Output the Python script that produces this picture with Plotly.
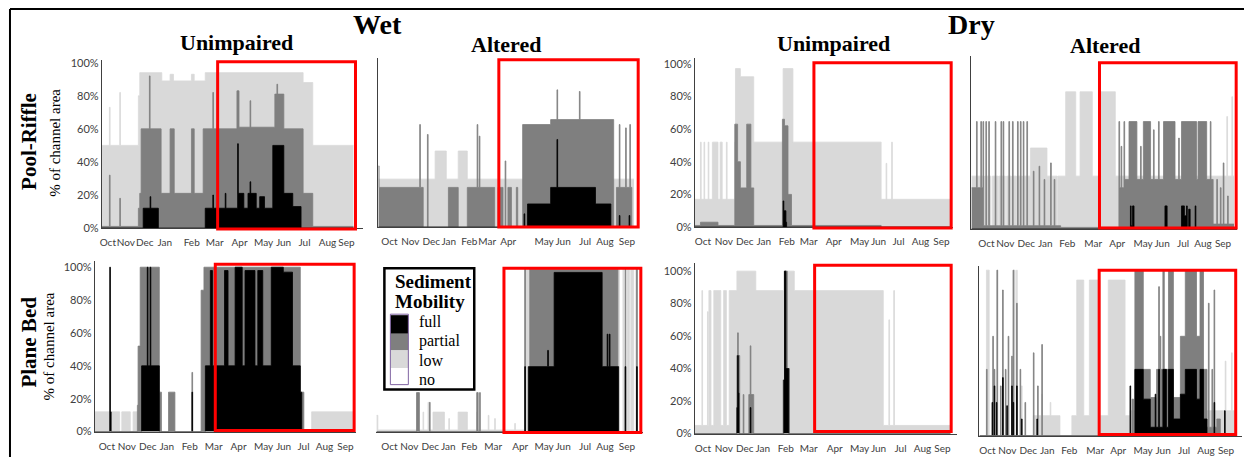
import plotly.graph_objects as go

W, H = 1244, 465
LOW_C, PART_C, FULL_C = "#d9d9d9", "#7f7f7f", "#000000"
MONTHS = ["Oct", "Nov", "Dec", "Jan", "Feb", "Mar", "Apr", "May", "Jun", "Jul", "Aug", "Sep"]
Y_TICKS = [0, 20, 40, 60, 80, 100]
Y_TEXT = ["0%", "20%", "40%", "60%", "80%", "100%"]

# ---- data: (day of water year, % of channel area) step breakpoints ----
# Wet, Unimpaired, Pool-Riffle
WU_PR_low = [(0, 50), (11, 73), (12, 50), (26, 82), (27, 50), (53, 80), (55, 94), (87, 89), (99, 93), (104, 89),
             (130, 93), (134, 89), (150, 94), (292, 88), (306, 50)]
WU_PR_partial = [(0, 1), (11, 32), (12, 1), (26, 18), (27, 1), (53, 12), (55, 21), (57, 60), (69, 92), (70, 60),
                 (86, 21), (99, 60), (105, 21), (130, 60), (134, 21), (147, 60), (161, 82), (162, 60), (196, 83),
                 (199, 61), (215, 77), (216, 61), (251, 81), (254, 87), (255, 81), (264, 60), (292, 21), (306, 1)]
WU_PR_full = [(0, 0), (60, 12), (70, 19), (71, 12), (82, 0), (150, 12), (161, 20), (162, 12), (179, 21), (180, 12),
              (197, 51), (198, 21), (206, 12), (212, 21), (215, 28), (216, 21), (224, 12), (229, 19), (236, 12),
              (248, 50), (264, 21), (277, 13), (289, 0)]

# Wet, Altered, Pool-Riffle
WA_PR_low = [(0, 29), (81, 46), (97, 29), (114, 46), (127, 29)]
WA_PR_partial = [(0, 37), (1, 24), (59, 62), (60, 24), (64, 0), (70, 56), (71, 0), (100, 24), (114, 0), (127, 24),
                 (141, 62), (142, 24), (144, 55), (145, 24), (166, 0), (171, 24), (178, 0), (181, 40), (182, 0),
                 (185, 24), (190, 0), (197, 24), (199, 0), (206, 62), (246, 65), (255, 83), (256, 65), (287, 82),
                 (288, 65), (336, 0), (340, 24), (344, 62), (345, 24), (353, 60), (354, 24), (359, 62), (360, 24),
                 (362, 0)]
WA_PR_full = [(0, 0), (208, 8), (209, 0), (213, 14), (246, 24), (255, 53), (256, 24), (310, 14), (332, 0),
              (344, 7), (345, 0), (358, 7), (359, 0)]

# Dry, Unimpaired, Pool-Riffle
DU_PR_low = [(0, 17), (8, 52), (9, 17), (13, 52), (14, 17), (19, 52), (20, 17), (25, 52), (33, 17), (36, 52),
             (39, 17), (45, 52), (46, 17), (57, 52), (58, 97), (65, 92), (84, 52), (126, 97), (140, 52), (266, 17),
             (273, 39), (274, 17), (281, 52), (282, 17)]
DU_PR_partial = [(0, 1), (8, 3), (33, 1), (57, 63), (61, 40), (65, 24), (74, 63), (80, 24), (84, 1), (125, 66),
                 (128, 62), (133, 20), (138, 1), (266, 0)]
DU_PR_full = [(0, 0), (126, 16), (127, 10), (130, 3), (131, 0)]

# Dry, Altered, Pool-Riffle
DA_PR_low = [(0, 32), (18, 0), (19, 32), (27, 0), (29, 32), (37, 0), (38, 32), (47, 0), (49, 32), (55, 0),
             (56, 32), (62, 0), (63, 32), (70, 0), (71, 32), (82, 49), (105, 32), (110, 0), (112, 32), (119, 0),
             (120, 32), (131, 83), (145, 32), (151, 83), (168, 32), (180, 83), (200, 32), (355, 68), (356, 32),
             (362, 80), (363, 32)]
DA_PR_partial = [(0, 25), (7, 65), (8, 25), (13, 65), (14, 25), (16, 65), (17, 2), (20, 65), (21, 2), (24, 65),
                 (25, 2), (33, 65), (34, 2), (41, 65), (42, 2), (44, 65), (45, 2), (52, 65), (53, 2), (57, 65),
                 (58, 2), (64, 65), (65, 2), (68, 65), (69, 2), (72, 65), (73, 2), (77, 65), (78, 2), (86, 35),
                 (87, 2), (94, 38), (95, 2), (101, 30), (102, 2), (110, 40), (111, 2), (115, 30), (116, 2),
                 (124, 1), (205, 65), (206, 25), (208, 50), (209, 25), (212, 65), (213, 30), (219, 65), (230, 30),
                 (235, 50), (236, 30), (239, 65), (249, 30), (253, 60), (254, 30), (260, 65), (261, 30), (267, 65),
                 (283, 30), (288, 55), (289, 30), (292, 65), (313, 30), (315, 65), (327, 30), (332, 65), (333, 30),
                 (336, 3), (341, 30), (342, 3), (346, 25), (347, 3), (350, 40), (351, 3), (356, 20), (357, 3)]
DA_PR_full = [(0, 0), (221, 14), (222, 2), (224, 14), (226, 0), (269, 14), (272, 0), (292, 14), (296, 8),
              (299, 14), (300, 0), (302, 12), (304, 0), (311, 14), (312, 0)]

# Wet, Unimpaired, Plane Bed
WU_PB_low = [(0, 12), (35, 0), (38, 12), (50, 0), (54, 12), (62, 0), (306, 12)]
WU_PB_partial = [(0, 0), (60, 16), (61, 52), (64, 100), (91, 24), (94, 0), (104, 24), (113, 0), (137, 36),
                 (138, 0), (150, 86), (154, 100), (290, 24), (295, 0)]
WU_PB_full = [(0, 0), (21, 100), (22, 12), (23, 0), (66, 40), (74, 100), (75, 40), (78, 100), (79, 40), (91, 0),
              (137, 24), (138, 0), (156, 40), (163, 98), (166, 40), (183, 98), (188, 40), (198, 100), (208, 40),
              (212, 98), (226, 40), (230, 98), (237, 40), (249, 100), (266, 97), (279, 40), (290, 24), (292, 0)]

# Wet, Altered, Plane Bed
WA_PB_low = [(0, 10), (2, 1), (65, 12), (66, 1), (72, 18), (73, 1), (79, 12), (95, 1), (101, 8), (102, 1),
             (114, 12), (127, 1), (140, 12), (141, 1), (156, 10), (157, 1), (165, 8), (166, 1), (193, 5), (194, 1),
             (207, 100), (339, 0), (344, 100), (345, 0), (350, 100), (353, 0), (355, 100), (359, 0), (362, 100)]
WA_PB_partial = [(0, 0), (56, 24), (60, 0), (74, 18), (75, 0), (140, 24), (142, 0), (144, 24), (145, 0),
                 (207, 100), (208, 0), (214, 100), (337, 0), (347, 100), (348, 0), (363, 100), (364, 0)]
WA_PB_full = [(0, 0), (207, 40), (208, 0), (212, 40), (239, 50), (240, 40), (248, 98), (315, 40), (322, 60),
              (323, 40), (325, 60), (326, 40), (338, 0), (347, 40), (348, 0), (363, 40), (364, 0)]

# Dry, Unimpaired, Plane Bed
DU_PB_low = [(0, 5), (10, 88), (11, 5), (18, 75), (19, 5), (20, 88), (23, 5), (27, 88), (37, 5), (41, 88),
             (45, 5), (49, 88), (60, 100), (87, 88), (127, 100), (142, 88), (269, 5), (277, 70), (278, 5),
             (284, 88), (285, 5)]
DU_PB_partial = [(0, 0), (60, 48), (61, 62), (62, 48), (64, 0), (69, 24), (70, 0), (77, 24), (79, 54), (80, 24),
                 (84, 0), (126, 33), (128, 100), (132, 40), (135, 0)]
DU_PB_full = [(0, 0), (60, 16), (61, 48), (62, 25), (63, 0), (79, 16), (80, 0), (127, 33), (128, 100), (130, 40),
              (134, 0)]

# Dry, Altered, Plane Bed
DA_PB_low = [(0, 0), (10, 100), (14, 0), (25, 100), (26, 0), (49, 100), (51, 0), (53, 100), (54, 0), (60, 30),
             (61, 0), (77, 12), (89, 25), (90, 12), (101, 20), (102, 12), (115, 0), (132, 12), (139, 94),
             (149, 12), (157, 94), (172, 12), (184, 94), (208, 12), (215, 15), (351, 45), (352, 15), (360, 50),
             (361, 15)]
DA_PB_partial = [(0, 0), (10, 40), (11, 0), (19, 60), (20, 0), (21, 40), (22, 0), (25, 100), (26, 0), (30, 30),
                 (31, 0), (33, 88), (34, 0), (37, 40), (38, 0), (41, 60), (42, 0), (46, 48), (47, 0), (48, 100),
                 (49, 0), (53, 80), (54, 0), (58, 40), (59, 0), (65, 20), (66, 0), (77, 50), (78, 0), (83, 30),
                 (84, 0), (89, 55), (90, 0), (218, 22), (220, 0), (222, 100), (234, 40), (244, 23), (253, 40),
                 (256, 90), (257, 40), (258, 60), (259, 40), (262, 100), (264, 40), (270, 100), (277, 23),
                 (287, 60), (294, 100), (310, 60), (315, 100), (320, 40), (325, 5), (327, 80), (328, 5), (332, 40),
                 (333, 5), (335, 88), (336, 5), (339, 10), (344, 0)]
DA_PB_full = [(0, 0), (18, 20), (19, 0), (21, 30), (22, 0), (24, 20), (25, 0), (33, 35), (34, 0), (39, 18),
              (40, 0), (46, 30), (47, 0), (48, 20), (49, 0), (53, 30), (54, 0), (60, 10), (61, 0), (82, 10),
              (83, 0), (215, 30), (216, 0), (222, 40), (234, 22), (244, 5), (251, 25), (252, 5), (256, 40),
              (257, 5), (262, 40), (267, 5), (270, 40), (277, 10), (287, 25), (294, 40), (310, 22), (315, 40),
              (320, 10), (325, 0), (335, 20), (336, 0), (350, 15), (351, 0)]

# highlighted window (start day, end day) per panel
WINDOW_START = [168, 172, 170, 178, 170, 178, 171, 171]
WINDOW_END = [368, 371, 366, 368, 366, 369, 366, 366]

# ---- layout (pixels) ----
# month-label centres per panel, in page pixels
LABEL_PX = [
    [106, 124, 143, 163, 190, 213, 238, 262, 282, 303, 326, 345],
    [388, 409, 430, 447.5, 468, 486, 507, 543, 562, 584, 604, 626],
    [702, 723, 744, 763, 786, 808, 833, 859, 878, 898, 920, 941],
    [986, 1005, 1026, 1045, 1067, 1093, 1117, 1143, 1162, 1183, 1203, 1223],
    [105, 125, 146, 165, 188, 212, 237, 262, 282, 302, 323, 344],
    [388, 408, 429, 447, 468, 492, 519, 543, 562, 584, 604, 626],
    [702, 723, 744, 762, 785, 808, 834, 859, 878, 900, 922, 942],
    [987, 1007, 1028, 1047, 1069, 1095, 1118, 1143, 1163, 1184, 1206, 1226],
]
# left, data end, axis end, baseline, top, px per 100%
panels = [
    dict(d=(WU_PR_low, WU_PR_partial, WU_PR_full), g=(100, 352, 362, 229, 57, 169), yt=True, yl=True, wy=(-0.6, 100.6)),
    dict(d=(WA_PR_low, WA_PR_partial, WA_PR_full), g=(377, 633, 638, 228, 55, 169), yt=False, yl=True, wy=(0, 101.2)),
    dict(d=(DU_PR_low, DU_PR_partial, DU_PR_full), g=(694, 950, 953, 228, 55, 167), yt=True, yl=True, wy=(-0.6, 100.6)),
    dict(d=(DA_PR_low, DA_PR_partial, DA_PR_full), g=(971, 1234, 1237, 230, 53, 169), yt=False, yl=True, wy=(0.6, 100.6)),
    dict(d=(WU_PB_low, WU_PB_partial, WU_PB_full), g=(93, 352, 355, 437, 263, 168), yt=True, yl=True, wy=(0.6, 101.8)),
    dict(d=(WA_PB_low, WA_PB_partial, WA_PB_full), g=(375, 637, 642, 437, 267, 166), yt=False, yl=False, wy=(-0.6, 100.6)),
    dict(d=(DU_PB_low, DU_PB_partial, DU_PB_full), g=(694, 950, 957, 439, 265, 166), yt=True, yl=True, wy=(1.2, 103.6)),
    dict(d=(DA_PB_low, DA_PB_partial, DA_PB_full), g=(979, 1235, 1242, 441, 268, 169), yt=False, yl=True, wy=(0.6, 100.0)),
]


def steps(pairs, end=365):
    xs = [p[0] for p in pairs] + [end]
    ys = [p[1] for p in pairs] + [pairs[-1][1]]
    return xs, ys


fig = go.Figure()
shapes = []
annotations = []
layout_axes = {}
xtickfont = dict(family="Lato", size=10, color="#404040")
ytickfont = dict(family="Lato", size=11, color="#404040")

for i, p in enumerate(panels, 1):
    left, dend, aend, base, top, span = p["g"]
    xr = 365 * (aend - left) / (dend - left)
    yr = 100 * (base - top) / span
    day_per_px = 365 / (dend - left)
    tickvals = [(lp - left) * day_per_px for lp in LABEL_PX[i - 1]]
    xn = "x" if i == 1 else f"x{i}"
    yn = "y" if i == 1 else f"y{i}"
    for pairs, col in zip(p["d"], (LOW_C, PART_C, FULL_C)):
        xs, ys = steps(pairs)
        fig.add_trace(go.Scatter(x=xs, y=ys, mode="lines", line=dict(shape="hv", width=0.8, color=col),
                                 fill="tozeroy", fillcolor=col, xaxis=xn, yaxis=yn, showlegend=False,
                                 hoverinfo="skip"))
    xkey = "xaxis" if i == 1 else f"xaxis{i}"
    ykey = "yaxis" if i == 1 else f"yaxis{i}"
    layout_axes[xkey] = dict(domain=[left / W, aend / W], range=[0, xr], anchor=yn, showgrid=False,
                             zeroline=False, showline=True, linecolor="#404040", linewidth=1,
                             tickmode="array", tickvals=tickvals, ticktext=MONTHS, ticks="", tickangle=0,
                             tickfont=xtickfont, ticklabelstandoff=5, fixedrange=True)
    layout_axes[ykey] = dict(domain=[1 - base / H, 1 - top / H], range=[0, yr], anchor=xn, showgrid=False,
                             zeroline=False, showline=p["yl"], linecolor="#404040", linewidth=1,
                             tickmode="array", tickvals=Y_TICKS, ticktext=Y_TEXT, ticks="",
                             showticklabels=p["yt"], tickfont=ytickfont, fixedrange=True)
    s, e = WINDOW_START[i - 1], WINDOW_END[i - 1]
    y0, y1 = p["wy"]
    shapes.append(dict(type="rect", xref=f"{xn} domain", yref=f"{yn} domain",
                       x0=s / xr, x1=e / xr, y0=y0 / yr, y1=y1 / yr,
                       line=dict(color="#ff0000", width=3), fillcolor="rgba(0,0,0,0)", layer="above"))


def px(x):
    return x / W


def py(y):
    return 1 - y / H


# frame lines
shapes.append(dict(type="line", xref="paper", yref="paper", x0=px(8), x1=px(1244), y0=py(5), y1=py(5),
                   line=dict(color="black", width=2)))
shapes.append(dict(type="line", xref="paper", yref="paper", x0=px(8), x1=px(8), y0=py(5), y1=py(463),
                   line=dict(color="black", width=2)))

# legend box
shapes.append(dict(type="rect", xref="paper", yref="paper", x0=px(383), x1=px(473), y0=py(270), y1=py(394),
                   line=dict(color="black", width=2.5), fillcolor="white", layer="above"))
sw = [(318, 337, FULL_C), (337, 354, PART_C), (354, 372, LOW_C), (372, 388, "white")]
for a, b, c in sw:
    shapes.append(dict(type="rect", xref="paper", yref="paper", x0=px(389), x1=px(407), y0=py(a), y1=py(b),
                       line=dict(width=0), fillcolor=c, layer="above"))
shapes.append(dict(type="rect", xref="paper", yref="paper", x0=px(389), x1=px(407), y0=py(317), y1=py(389),
                   line=dict(color="#8064a2", width=1), fillcolor="rgba(0,0,0,0)", layer="above"))

serif = "Liberation Serif"


def ann(text, x, y, size, angle=0, xanchor="center", bold=True):
    annotations.append(dict(text=f"<b>{text}</b>" if bold else text, x=px(x), y=py(y), xref="paper",
                            yref="paper", showarrow=False, xanchor=xanchor, yanchor="middle",
                            textangle=angle, font=dict(family=serif, size=size, color="black")))


ann("Wet", 376, 21, 28)
ann("Dry", 971, 21, 28)
ann("Unimpaired", 235, 39, 22)
ann("Altered", 505, 41, 22)
ann("Unimpaired", 833, 40, 22)
ann("Altered", 1105, 42, 22)
ann("Pool-Riffle", 27, 140, 21, angle=-90)
ann("% of channel area", 53, 142, 15, angle=-90, bold=False)
ann("Plane Bed", 27, 345, 21, angle=-90)
ann("% of channel area", 48, 350, 15, angle=-90, bold=False)
ann("Sediment", 392, 284, 19, xanchor="left")
ann("Mobility", 392, 304, 19, xanchor="left")
for lbl, yy in [("full", 324), ("partial", 344), ("low", 364), ("no", 384)]:
    ann(lbl, 416, yy, 16, xanchor="left", bold=False)

fig.update_layout(width=W, height=H, margin=dict(l=0, r=0, t=0, b=0), paper_bgcolor="white",
                  plot_bgcolor="white", showlegend=False, shapes=shapes, annotations=annotations,
                  **layout_axes)
fig.write_html("out.html", config={"displayModeBar": False})
